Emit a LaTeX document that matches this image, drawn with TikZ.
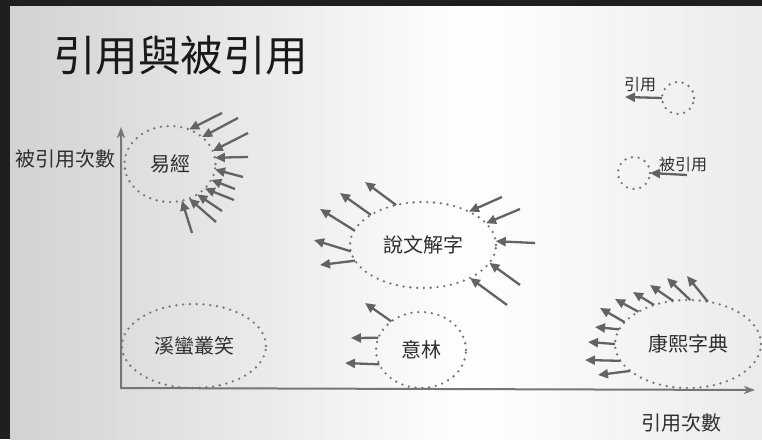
\documentclass[tikz,border=0pt]{standalone}
\usepackage{fontspec}
\newfontfamily\cjk{Noto Sans CJK TC}
\usetikzlibrary{arrows.meta,shapes.geometric}
\definecolor{framec}{HTML}{1F1F1F}
\definecolor{bgl}{HTML}{D2D2D2}
\definecolor{bgr}{HTML}{EBEBEB}
\definecolor{arrgray}{HTML}{636363}
\definecolor{axgray}{HTML}{767676}
\definecolor{dotgray}{HTML}{767676}
\definecolor{txt}{HTML}{2E2E2E}
\tikzset{
  dotell/.style={ellipse, draw=dotgray, line width=2.6pt, dash pattern=on 0pt off 6.8pt,
    line cap=round, inner sep=0pt, outer sep=0pt,
    font=\cjk\fontsize{20}{24}\selectfont, text=txt},
  arr/.style={draw=arrgray, line width=2.3pt, -{Triangle[length=10pt,width=9pt]}},
  axisline/.style={draw=axgray, line width=2pt},
  lbl/.style={font=\cjk\fontsize{20}{24}\selectfont, text=txt, inner sep=0pt},
  smalllbl/.style={font=\cjk\fontsize{16}{19}\selectfont, text=txt, inner sep=0pt},
}
\begin{document}
\begin{tikzpicture}[x=1pt,y=-1pt]
\useasboundingbox (0,0) rectangle (762,439);
% background
\shade[left color=bgl, right color=white] (10,5.5) rectangle (470,439);
\shade[left color=white, right color=bgr] (470,5.5) rectangle (762,439);
\fill[framec] (0,0) rectangle (762,5.5);
\fill[framec] (0,0) rectangle (10,439);

% title
\node[anchor=west, inner sep=0pt, font=\cjk\fontsize{42.5}{48}\selectfont, text=black!90] (title) at (53,55) {引用與被引用};

% axes
\coordinate (ytop) at (121,127);
\coordinate (O) at (121,388);
\coordinate (xend) at (755,390);
\draw[axisline, {Stealth[length=11pt,width=8pt,inset=3pt]}-{Stealth[length=11pt,width=8pt,inset=3pt]}] (ytop) -- (O) -- (xend);
\node[lbl] (ylab) at (65,159) {被引用次數};
\node[lbl] (xlab) at (681,423) {引用次數};

% ellipses
\node[dotell, minimum width=91pt, minimum height=76pt] (yj) at (170,164) {易經};
\node[dotell, minimum width=146pt, minimum height=86pt] (sw) at (423,245) {說文解字};
\node[dotell, minimum width=90pt, minimum height=76pt] (yl) at (421,350) {意林};
\node[dotell, minimum width=144pt, minimum height=84pt] (xm) at (194,346) {溪蠻叢笑};
\node[dotell, minimum width=146pt, minimum height=88pt] (kx) at (688,344) {康熙字典};

% 易經 incoming
\foreach \x/\y/\a [count=\i] in {222/113/61, 238/118/40.5, 248/133/17.6, 248/157/8.8, 243/177/-7.8,
  235/189/-21.5, 234/200/-35, 222/211/-48, 216/222/-61, 192/233/-72.5}{
  \coordinate (yjt\i) at (\x,\y);
  \draw[arr] (yjt\i) -- (yj.\a);
}

% 說文解字 outgoing
\foreach \x/\y/\a [count=\i] in {365/182/124, 340/193/150.5, 320/209/168, 314/240/185.5, 320/265/193.6}{
  \coordinate (swo\i) at (\x,\y);
  \draw[arr] (sw.\a) -- (swo\i);
}
% 說文解字 incoming
\foreach \x/\y/\a [count=\i] in {502/197/36.7, 520/209/19.5, 535/243/3.8, 520/285/-15.5, 507/305/-35}{
  \coordinate (swi\i) at (\x,\y);
  \draw[arr] (swi\i) -- (sw.\a);
}

% 意林 outgoing
\foreach \x/\y/\a [count=\i] in {365/303/136, 351/338/164, 345/363/199}{
  \coordinate (ylo\i) at (\x,\y);
  \draw[arr] (yl.\a) -- (ylo\i);
}

% 康熙字典 outgoing
\foreach \x/\y/\a [count=\i] in {687/276/65.7, 667/278/87, 650/285/109.7, 633/292/131.7, 615/299/147,
  600/308/161.3, 595/327/168.8, 588/342/180.8, 585/360/194, 598/375/205}{
  \coordinate (kxo\i) at (\x,\y);
  \draw[arr] (kx.\a) -- (kxo\i);
}

% legend
\node[dotell, minimum size=32pt] (lc1) at (678,98) {};
\coordinate (lh1) at (625,97);
\draw[arr] (lc1.west) -- (lh1);
\node[smalllbl] (lt1) at (640,85) {引用};
\node[dotell, minimum size=32pt] (lc2) at (634,173) {};
\coordinate (lt2a) at (687,175);
\draw[arr] (lt2a) -- (lc2.east);
\node[smalllbl] (lt2) at (683,164) {被引用};
\end{tikzpicture}
\end{document}
